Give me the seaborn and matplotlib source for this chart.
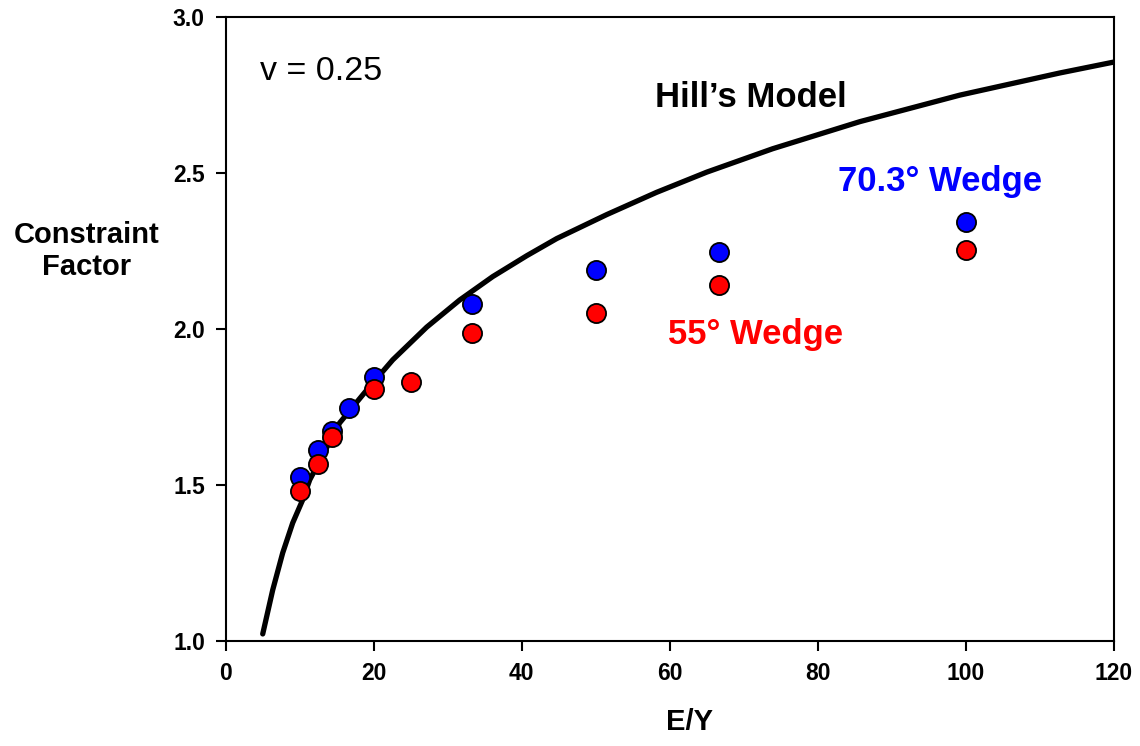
import matplotlib
matplotlib.use("Agg")
import matplotlib.pyplot as plt
import seaborn as sns
import pandas as pd

# Hill's model curve
hill_x = [5.0, 6.35, 7.7, 9.05, 10.4, 11.35, 15.4, 19.05, 22.57, 27.16, 31.62, 36.08, 40.68,
          44.73, 51.5, 58.2, 65.0, 73.9, 85.7, 99.2, 112.7, 120.0]
hill_y = [1.022, 1.163, 1.282, 1.378, 1.452, 1.516, 1.699, 1.804, 1.901, 2.006, 2.093, 2.168, 2.235,
          2.290, 2.367, 2.438, 2.503, 2.578, 2.665, 2.750, 2.821, 2.856]

# 70.3 deg wedge
w70_x = [10.0, 12.5, 14.3, 16.7, 20.0, 33.3, 50.0, 66.7, 100.0]
w70_y = [1.526, 1.612, 1.673, 1.747, 1.846, 2.080, 2.189, 2.247, 2.343]

# 55 deg wedge
w55_x = [10.0, 12.5, 14.3, 20.0, 25.0, 33.3, 50.0, 66.7, 100.0]
w55_y = [1.481, 1.567, 1.654, 1.808, 1.830, 1.987, 2.051, 2.141, 2.253]

x_ticks = [0, 20, 40, 60, 80, 100, 120]
y_ticks = [1.0, 1.5, 2.0, 2.5, 3.0]

sns.set_style("ticks")
plt.rcParams['font.family'] = ['Liberation Sans', 'DejaVu Sans']
plt.rcParams['text.color'] = 'black'
plt.rcParams['xtick.color'] = 'black'
plt.rcParams['ytick.color'] = 'black'

fig = plt.figure(figsize=(11.4, 7.46), dpi=100)
ax = fig.add_axes([0.198, 0.141, 0.779, 0.836])

hill = pd.DataFrame({"x": hill_x, "y": hill_y})
d70 = pd.DataFrame({"x": w70_x, "y": w70_y})
d55 = pd.DataFrame({"x": w55_x, "y": w55_y})

sns.lineplot(data=hill, x="x", y="y", ax=ax, color="black", linewidth=3.8, zorder=2, sort=True)
sns.scatterplot(data=d70, x="x", y="y", ax=ax, color="#0000ff", s=190, edgecolor="black",
                linewidth=1.3, zorder=3)
sns.scatterplot(data=d55, x="x", y="y", ax=ax, color="#ff0000", s=190, edgecolor="black",
                linewidth=1.3, zorder=4)

ax.set_xlim(0, 120)
ax.set_ylim(1.0, 3.0)
ax.set_xticks(x_ticks)
ax.set_yticks(y_ticks)
ax.set_xticklabels([str(v) for v in x_ticks])
ax.set_yticklabels([f"{v:.1f}" for v in y_ticks])

for s in ax.spines.values():
    s.set_linewidth(1.5)
    s.set_color("black")
ax.tick_params(axis="both", direction="out", length=7, width=1.5, color="black",
               labelcolor="black", labelsize=16.5, pad=8)
for lab in ax.get_xticklabels() + ax.get_yticklabels():
    lab.set_fontweight("bold")

ax.set_xlabel("")
ax.set_ylabel("")
fig.text(690 / 1140, 1 - 722 / 746, "E/Y", ha="center", va="center",
         fontsize=21, fontweight="bold", color="black")
fig.text(87 / 1140, 1 - 251 / 746, "Constraint\nFactor", ha="center", va="center",
         fontsize=21, fontweight="bold", linespacing=1.15, color="black")

ax.text(4.6, 2.798, "v = 0.25", fontsize=24.5, ha="left", va="baseline", color="black")
ax.text(58.0, 2.712, "Hill\u2019s Model", fontsize=25, fontweight="bold", ha="left",
        va="baseline", color="black")
ax.text(82.7, 2.444, "70.3\u00b0 Wedge", fontsize=25, fontweight="bold", color="#0000ff",
        ha="left", va="baseline")
ax.text(59.7, 1.952, "55\u00b0 Wedge", fontsize=25, fontweight="bold", color="#ff0000",
        ha="left", va="baseline")

fig.savefig("out.png", dpi=100, facecolor="white")
